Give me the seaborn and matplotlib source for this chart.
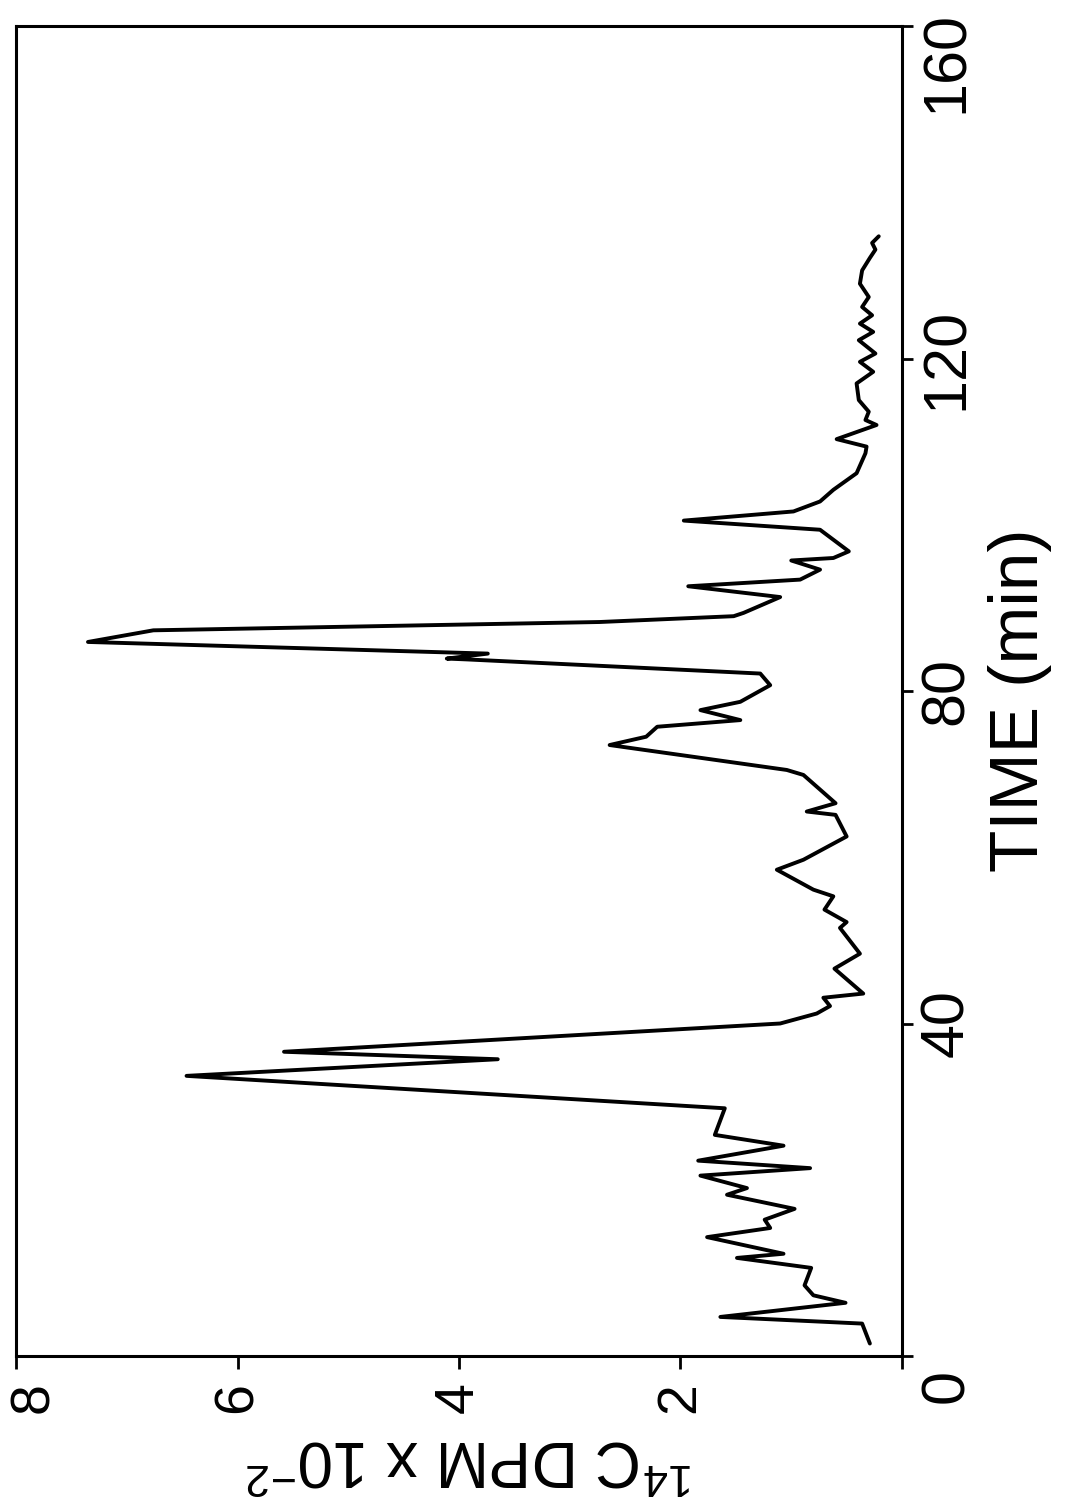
import matplotlib
matplotlib.use("Agg")
import matplotlib.pyplot as plt
import matplotlib.transforms as mtransforms
import pandas as pd
import seaborn as sns

time_min = [1.5, 3.9, 4.7, 6.4, 7.3, 8.5, 10.6, 11.8, 12.3, 14.3, 15.4, 16.4,
            17.7, 19.4, 20.2, 21.7, 22.6, 23.5, 25.3, 26.6, 29.8, 33.7, 35.7,
            36.6, 40.0, 41.2, 42.1, 43.1, 43.6, 46.6, 48.4, 51.5, 52.2, 53.7,
            55.3, 56.1, 58.5, 59.7, 62.5, 65.1, 65.5, 66.5, 69.9, 70.5, 73.5,
            74.5, 75.7, 76.5, 77.7, 78.7, 80.7, 82.1, 83.8, 83.9, 84.5, 85.9,
            87.3, 88.3, 89.0, 89.4, 91.3, 92.6, 93.4, 94.6, 95.7, 96.0, 96.8,
            99.4, 100.5, 101.6, 102.8, 104.2, 106.2, 108.6, 109.4, 110.3, 112.0,
            112.6, 113.6, 115.0, 117.0, 118.4, 119.6, 120.6, 122.2, 123.2,
            124.2, 125.2, 126.2, 127.4, 129.0, 130.6, 132.1, 133.1, 133.9, 134.7]
dpm = [0.29, 0.36, 1.64, 0.51, 0.80, 0.88, 0.82, 1.49, 1.07, 1.76, 1.19, 1.24,
       0.97, 1.58, 1.40, 1.82, 0.83, 1.84, 1.07, 1.69, 1.60, 6.46, 3.65,
       5.58, 1.10, 0.77, 0.65, 0.71, 0.35, 0.61, 0.38, 0.56, 0.50, 0.70,
       0.62, 0.80, 1.13, 0.89, 0.50, 0.60, 0.86, 0.60, 0.89, 1.04, 2.64,
       2.31, 2.21, 1.46, 1.82, 1.46, 1.19, 1.28, 3.93, 4.11, 3.74, 7.35,
       6.76, 2.73, 1.52, 1.43, 1.10, 1.93, 0.92, 0.74, 1.00, 0.62, 0.48,
       0.74, 1.97, 0.98, 0.74, 0.62, 0.41, 0.33, 0.32, 0.59, 0.23,
       0.33, 0.30, 0.39, 0.41, 0.26, 0.38, 0.24, 0.39, 0.26,
       0.38, 0.27, 0.36, 0.30, 0.38, 0.36, 0.29, 0.24, 0.27, 0.21]

dpm_ticks = [0, 2, 4, 6, 8]
dpm_labels = ["", "2", "4", "6", "8"]
time_ticks = [0, 40, 80, 120, 160]
time_labels = ["0", "40", "80", "120", "160"]

sns.set_theme(style="white")
plt.rcParams["font.family"] = ["Liberation Sans", "DejaVu Sans"]
plt.rcParams["mathtext.default"] = "regular"
plt.rcParams.update({"text.color": "black", "axes.labelcolor": "black",
                     "xtick.color": "black", "ytick.color": "black"})

W, H = 1083, 1505
fig = plt.figure(figsize=(W / 100, H / 100), dpi=100)
# axes box in pixels: x 16..902, y 26..1356 (figure is drawn rotated)
ax = fig.add_axes([16 / W, (H - 1356) / H, 886 / W, 1330 / H])

df = pd.DataFrame({"time": time_min, "dpm": dpm})
sns.lineplot(data=df, x="dpm", y="time", sort=False, estimator=None,
             orient="y", color="black", lw=2.8, ax=ax)

ax.set_xlim(8, 0)
ax.set_ylim(0, 160)
for s in ax.spines.values():
    s.set_color("black")
    s.set_linewidth(2.2)

ax.set_xticks(dpm_ticks)
ax.set_xticklabels(dpm_labels, rotation=90)
ax.yaxis.tick_right()
ax.set_yticks(time_ticks)
ax.set_yticklabels(time_labels, rotation=90, va="center")
ax.tick_params(axis="x", bottom=True, direction="out", length=9, width=2,
               labelsize=40, pad=10)
ax.tick_params(axis="y", right=True, left=False, direction="out", length=8,
               width=2, labelsize=44, pad=4)

# rotated axis titles
ax.set_xlabel(r"$^{14}$C DPM x 10$^{-2}$", fontsize=46, rotation=180)
ax.xaxis.set_label_coords((470 - 16) / 886, -(1458 - 1356) / 1330)
ax.xaxis.label.set_va("center")

ax.set_ylabel("TIME (min)", fontsize=50)
ax.yaxis.set_label_position("right")
ax.yaxis.set_label_coords((1020 - 16) / 886, (1356 - 700) / 1330)
ax.yaxis.label.set_va("center")

# end labels of the time axis sit a little below their ticks
yt = ax.yaxis.get_major_ticks()
for tick, shift in [(yt[0], 30), (yt[-1], 36)]:
    off = mtransforms.ScaledTranslation(0, -shift / 100, fig.dpi_scale_trans)
    tick.label2.set_transform(tick.label2.get_transform() + off)

# the "8" at the left corner is nudged inwards
xt = ax.xaxis.get_major_ticks()
off = mtransforms.ScaledTranslation(18 / 100, 0, fig.dpi_scale_trans)
xt[-1].label1.set_transform(xt[-1].label1.get_transform() + off)

fig.savefig("out.png", dpi=100)
